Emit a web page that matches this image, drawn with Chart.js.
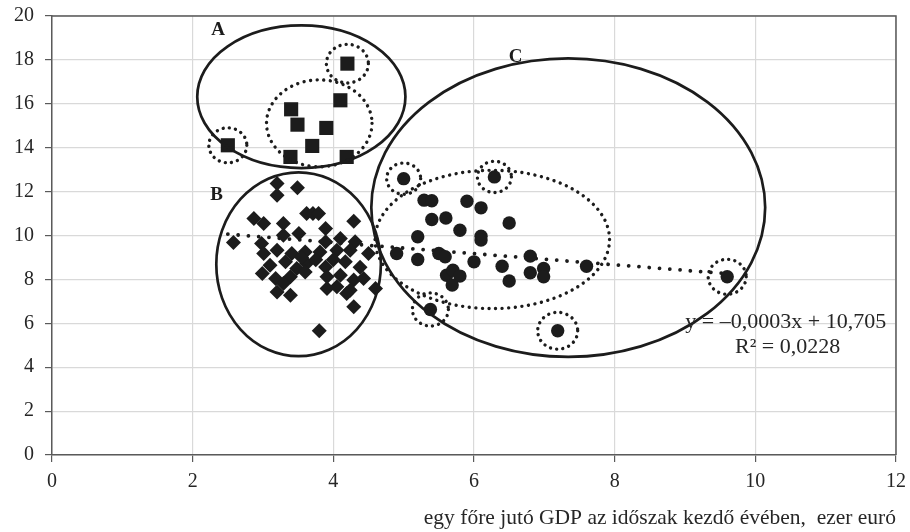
<!DOCTYPE html>
<html lang="hu">
<head>
<meta charset="UTF-8">
<title>GDP és növekedés – szórásdiagram</title>
<script src="https://cdn.jsdelivr.net/npm/chart.js"></script>
<style>
  html, body { margin: 0; padding: 0; background: #fff; }
</style>
</head>
<body>
<canvas id="grafikon" width="910" height="532"></canvas>
<script>
// A csoport (négyzetek)
const csoportA_x = [4.20, 4.10, 3.40, 3.49, 3.90, 3.70, 3.39, 4.19, 2.50];
const csoportA_y = [17.83, 16.16, 15.75, 15.05, 14.90, 14.08, 13.58, 13.58, 14.11];

// B csoport (rombuszok)
const csoportB_x = [2.58, 2.87, 3.01, 3.20, 3.49, 3.20, 3.62, 3.71, 3.79, 3.29, 4.29, 3.29, 3.51, 3.89,
  2.98, 3.89, 4.10, 4.31, 3.01, 3.20, 3.41, 3.60, 3.81, 4.05, 4.24, 4.50, 3.32, 3.10, 3.48, 3.62,
  3.89, 4.17, 4.38, 2.99, 3.18, 3.39, 3.60, 3.91, 4.10, 4.29, 4.43, 3.29, 4.05, 3.91, 4.24, 4.60,
  3.20, 3.39, 4.19, 4.29, 3.80, 3.75, 4.00, 3.55];
const csoportB_y = [9.68, 10.77, 10.55, 12.37, 12.18, 11.83, 11.00, 11.00, 11.00, 10.55, 10.65, 10.01, 10.09, 10.32,
  9.63, 9.71, 9.86, 9.71, 9.18, 9.33, 9.18, 9.25, 9.25, 9.33, 9.33, 9.18, 8.80, 8.65, 8.50, 8.72,
  8.57, 8.80, 8.55, 8.27, 8.04, 8.12, 8.34, 8.12, 8.19, 7.97, 8.04, 7.81, 7.66, 7.59, 7.51, 7.59,
  7.43, 7.28, 7.36, 6.75, 5.66, 8.90, 8.90, 9.00];

// C csoport (körök)
const csoportC_x = [5.00, 6.29, 5.29, 5.40, 5.90, 6.10, 5.40, 5.60, 6.50, 5.80, 6.10, 6.10, 5.20, 4.90,
  5.20, 5.50, 5.59, 6.00, 6.40, 6.80, 6.80, 6.99, 6.99, 7.60, 5.61, 5.70, 5.80, 5.69, 6.50, 5.38,
  7.19, 9.60];
const csoportC_y = [12.59, 12.67, 11.61, 11.58, 11.56, 11.26, 10.73, 10.80, 10.57, 10.24, 9.97, 9.79, 9.94, 9.18,
  8.91, 9.18, 9.03, 8.80, 8.60, 9.06, 8.30, 8.50, 8.12, 8.60, 8.19, 8.42, 8.15, 7.74, 7.93, 6.63,
  5.66, 8.12];

// trendvonal végpontjai
const trend_x = [2.5, 9.6];
const trend_y = [10.06, 8.26];

const xTickek = [0, 2, 4, 6, 8, 10, 12];
const yTickek = [0, 2, 4, 6, 8, 10, 12, 14, 16, 18, 20];

const betu = "'Liberation Serif', 'DejaVu Serif', serif";
const fekete = '#1c1c1c';
const tengely = '#5a5a5a';

function pontok(xs, ys) {
  return xs.map((x, i) => ({ x: x, y: ys[i] }));
}

// ellipszisek (adat-egységben)
const ellipszisek = [
  { cx: 3.545, cy: 16.32, rx: 1.48, ry: 3.25, pontozott: false },
  { cx: 3.80, cy: 15.11, rx: 0.75, ry: 1.98, pontozott: true },
  { cx: 3.506, cy: 8.69, rx: 1.17, ry: 4.19, pontozott: false },
  { cx: 7.34, cy: 11.27, rx: 2.80, ry: 6.80, pontozott: false },
  { cx: 6.26, cy: 9.82, rx: 1.667, ry: 3.15, pontozott: true }
];
// kiemelt pontok körül pontozott kör (sugár pixelben)
const kiemeltek = [
  { x: 4.20, y: 17.83, r: 21 }, { x: 2.50, y: 14.11, r: 19 },
  { x: 5.00, y: 12.59, r: 17 }, { x: 6.29, y: 12.67, r: 17 },
  { x: 5.38, y: 6.63, r: 18 }, { x: 7.19, y: 5.66, r: 20 },
  { x: 9.60, y: 8.12, r: 19 }
];
const cimkek = [
  { t: 'A', x: 2.36, y: 19.35 },
  { t: 'B', x: 2.34, y: 11.85 },
  { t: 'C', x: 6.59, y: 18.12 }
];

const rajzPlugin = {
  id: 'rajz',
  afterDatasetsDraw(chart) {
    const ctx = chart.ctx;
    const xs = chart.scales.x, ys = chart.scales.y;
    const a = chart.chartArea;
    ctx.save();
    // felső és jobb keret
    ctx.strokeStyle = tengely;
    ctx.lineWidth = 1.5;
    ctx.beginPath();
    ctx.moveTo(a.left, a.top);
    ctx.lineTo(a.right, a.top);
    ctx.lineTo(a.right, a.bottom);
    ctx.stroke();

    ctx.strokeStyle = fekete;
    ctx.lineCap = 'round';
    ellipszisek.forEach(e => {
      const px = xs.getPixelForValue(e.cx), py = ys.getPixelForValue(e.cy);
      const rx = xs.getPixelForValue(e.cx + e.rx) - px;
      const ry = py - ys.getPixelForValue(e.cy + e.ry);
      ctx.beginPath();
      ctx.ellipse(px, py, rx, ry, 0, 0, Math.PI * 2);
      if (e.pontozott) { ctx.lineWidth = 3.4; ctx.setLineDash([0.01, 6.6]); }
      else { ctx.lineWidth = 2.7; ctx.setLineDash([]); }
      ctx.stroke();
    });
    ctx.lineWidth = 3.4;
    ctx.setLineDash([0.01, 6.2]);
    kiemeltek.forEach(k => {
      const px = xs.getPixelForValue(k.x), py = ys.getPixelForValue(k.y);
      ctx.beginPath();
      ctx.ellipse(px, py, k.r, k.r * 0.92, 0, 0, Math.PI * 2);
      ctx.stroke();
    });
    ctx.setLineDash([]);

    ctx.fillStyle = fekete;
    ctx.font = 'bold 19px ' + betu;
    ctx.textAlign = 'center';
    ctx.textBaseline = 'middle';
    cimkek.forEach(c => {
      ctx.fillText(c.t, xs.getPixelForValue(c.x), ys.getPixelForValue(c.y));
    });

    ctx.font = '22px ' + betu;
    ctx.fillStyle = '#262626';
    ctx.textAlign = 'right';
    ctx.fillText('y = \u20130,0003x + 10,705', xs.getPixelForValue(11.86), ys.getPixelForValue(6.07));
    ctx.textAlign = 'center';
    ctx.fillText('R\u00b2 = 0,0228', xs.getPixelForValue(10.46), ys.getPixelForValue(4.93));
    ctx.restore();
  }
};

new Chart(document.getElementById('grafikon'), {
  type: 'scatter',
  data: {
    datasets: [
      {
        label: 'A',
        data: pontok(csoportA_x, csoportA_y),
        pointStyle: 'rect',
        pointRadius: 10,
        backgroundColor: fekete,
        borderColor: fekete,
        borderWidth: 0
      },
      {
        label: 'B',
        data: pontok(csoportB_x, csoportB_y),
        pointStyle: 'rectRot',
        pointRadius: 7.5,
        backgroundColor: fekete,
        borderColor: fekete,
        borderWidth: 0
      },
      {
        label: 'C',
        data: pontok(csoportC_x, csoportC_y),
        pointStyle: 'circle',
        pointRadius: 6.7,
        backgroundColor: fekete,
        borderColor: fekete,
        borderWidth: 0
      },
      {
        label: 'trend',
        data: pontok(trend_x, trend_y),
        showLine: true,
        pointRadius: 0,
        borderColor: fekete,
        borderWidth: 3.8,
        borderDash: [0.01, 10.3],
        borderCapStyle: 'round'
      }
    ]
  },
  options: {
    responsive: false,
    animation: false,
    layout: { padding: { top: 16, right: 14, left: 0, bottom: 0 } },
    plugins: { legend: { display: false }, tooltip: { enabled: false } },
    scales: {
      x: {
        type: 'linear',
        min: 0,
        max: 12,
        afterBuildTicks: s => { s.ticks = xTickek.map(v => ({ value: v })); },
        afterFit: s => { s.height = 77; s.paddingLeft = 0; s.paddingRight = 0; },
        ticks: { color: '#262626', font: { family: betu, size: 20 }, padding: 8 },
        grid: { color: '#d9d9d9', lineWidth: 1.2, tickColor: tengely, tickLength: 7 },
        border: { color: tengely, width: 1.5 },
        title: {
          display: true,
          text: 'egy főre jutó GDP az időszak kezdő évében,  ezer euró',
          align: 'end',
          color: '#262626',
          font: { family: betu, size: 21.5 },
          padding: { top: 0, bottom: 1 }
        }
      },
      y: {
        type: 'linear',
        min: 0,
        max: 20,
        afterBuildTicks: s => { s.ticks = yTickek.map(v => ({ value: v })); },
        afterFit: s => { s.width = 52; s.paddingTop = 0; s.paddingBottom = 0; },
        ticks: { color: '#262626', font: { family: betu, size: 20 }, padding: 11 },
        grid: { color: '#d9d9d9', lineWidth: 1.2, tickColor: tengely, tickLength: 7 },
        border: { color: tengely, width: 1.5 }
      }
    }
  },
  plugins: [rajzPlugin]
});
</script>
</body>
</html>
